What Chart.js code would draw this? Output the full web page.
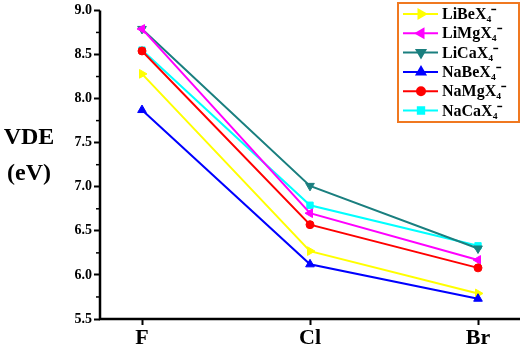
<!DOCTYPE html>
<html><head><meta charset="utf-8">
<script src="https://cdn.jsdelivr.net/npm/chart.js@4/dist/chart.umd.min.js"></script>
<style>html,body{margin:0;padding:0;background:#fff}#wrap{width:526px;height:350px;position:relative}</style>
</head><body><div id="wrap"><canvas id="c" width="526" height="350"></canvas></div>
<script>
const categories = ["F", "Cl", "Br"];
const seriesNames = ["LiBeX\u2084\u207B", "LiMgX\u2084\u207B", "LiCaX\u2084\u207B", "NaBeX\u2084\u207B", "NaMgX\u2084\u207B", "NaCaX\u2084\u207B"];
const LiBeX4 = [8.28, 6.27, 5.79];
const LiMgX4 = [8.79, 6.70, 6.17];
const LiCaX4 = [8.79, 7.01, 6.30];
const NaBeX4 = [7.87, 6.12, 5.73];
const NaMgX4 = [8.54, 6.57, 6.08];
const NaCaX4 = [8.55, 6.79, 6.33];
const yTicks = [5.5, 6.0, 6.5, 7.0, 7.5, 8.0, 8.5, 9.0];
const yTitle = ["VDE", "(eV)"];

const colors = ["#ffff00", "#ff00ff", "#1a7f7f", "#0000ff", "#ff0000", "#00ffff"];
const styles = ["triangle", "triangle", "triangle", "triangle", "circle", "rect"];
const rots = [90, -90, 180, 0, 0, 0];
const radii = [5, 5, 5, 5, 4, 4.5];
const drawOrder = [1, 3, 4, 0, 2, 5];
const values = [LiBeX4, LiMgX4, LiCaX4, NaBeX4, NaMgX4, NaCaX4];

const datasets = values.map((v, i) => ({
  label: seriesNames[i],
  data: v.map((y, j) => ({x: j, y: y})),
  borderColor: colors[i],
  backgroundColor: colors[i],
  borderWidth: 2,
  pointStyle: styles[i],
  rotation: rots[i],
  pointRadius: radii[i],
  pointBorderWidth: 1,
  tension: 0,
  order: drawOrder[i]
}));

const SERIF = '"Liberation Serif", "Times New Roman", serif';

const extras = {
  id: 'extras',
  afterDraw(chart) {
    const ctx = chart.ctx;
    const ys = chart.scales.y;
    const ca = chart.chartArea;
    ctx.save();
    ctx.strokeStyle = '#000'; ctx.lineWidth = 1.5;
    for (let k = 0; k < yTicks.length - 1; k++) {
      const py = ys.getPixelForValue((yTicks[k] + yTicks[k + 1]) / 2);
      ctx.beginPath(); ctx.moveTo(ca.left - 4, py); ctx.lineTo(ca.left, py); ctx.stroke();
    }
    ctx.lineWidth = 2.5;
    ctx.beginPath();
    ctx.moveTo(ca.left, ca.top); ctx.lineTo(ca.left, ca.bottom); ctx.lineTo(ca.right, ca.bottom);
    ctx.stroke();
    ctx.fillStyle = '#000';
    ctx.font = 'bold 24px ' + SERIF;
    ctx.textAlign = 'center'; ctx.textBaseline = 'middle';
    ctx.fillText(yTitle[0], 29, 138);
    ctx.fillText(yTitle[1], 29, 174);
    const lx = 398, ly = 3, lw = 121, lh = 119;
    ctx.fillStyle = '#fff';
    ctx.fillRect(lx, ly, lw, lh);
    ctx.strokeStyle = '#f07820'; ctx.lineWidth = 2;
    ctx.strokeRect(lx, ly, lw, lh);
    chart.data.datasets.forEach((d, i) => {
      const y = 14 + i * 19.3;
      ctx.strokeStyle = d.borderColor; ctx.lineWidth = 2;
      ctx.beginPath(); ctx.moveTo(403, y); ctx.lineTo(438, y); ctx.stroke();
      ctx.fillStyle = d.backgroundColor;
      Chart.helpers.drawPoint(ctx, {pointStyle: d.pointStyle, rotation: d.rotation, radius: d.pointRadius, borderWidth: 1}, 421, y);
      ctx.fillStyle = '#000';
      ctx.font = 'bold 16px ' + SERIF;
      ctx.textAlign = 'left'; ctx.textBaseline = 'middle';
      ctx.fillText(d.label, 442, y + 1);
    });
    ctx.restore();
  }
};

new Chart(document.getElementById('c'), {
  type: 'line',
  data: { datasets },
  options: {
    responsive: false,
    animation: false,
    layout: { padding: { top: 8, right: 4, left: 0, bottom: 0 } },
    plugins: { legend: { display: false }, tooltip: { enabled: false } },
    scales: {
      x: {
        type: 'linear', min: -0.25, max: 2.25,
        afterBuildTicks: s => { s.ticks = categories.map((c, i) => ({value: i})); },
        afterFit: s => { s.height = 31; },
        border: { display: false },
        grid: { drawOnChartArea: false, drawTicks: true, tickLength: 6, tickColor: '#000', tickWidth: 2 },
        ticks: { callback: (v) => categories[v] || '', color: '#000', padding: 0,
                 font: { family: SERIF, size: 22, weight: 'bold' }, maxRotation: 0, autoSkip: false }
      },
      y: {
        min: 5.5, max: 9.0,
        afterBuildTicks: s => { s.ticks = yTicks.map(v => ({value: v})); },
        afterFit: s => { s.width = 100; },
        border: { display: false },
        grid: { drawOnChartArea: false, drawTicks: true, tickLength: 6, tickColor: '#000', tickWidth: 2 },
        ticks: { callback: v => v.toFixed(1), color: '#000', padding: 2,
                 font: { family: SERIF, size: 14, weight: 'bold' } }
      }
    }
  },
  plugins: [extras]
});
</script></body></html>
